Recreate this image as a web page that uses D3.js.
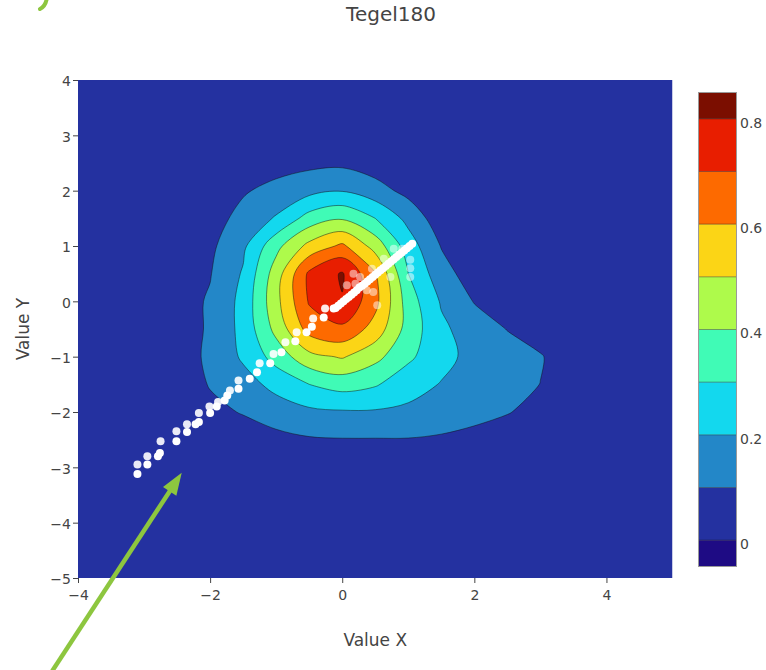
<!DOCTYPE html>
<html>
<head>
<meta charset="utf-8">
<script src="https://cdn.jsdelivr.net/npm/d3@7"></script>
<style>
  body { margin: 0; background: #fff; }
  text { font-family: "DejaVu Sans", Verdana, sans-serif; fill: #444; }
</style>
</head>
<body>
<div id="container"></div>
<script>
/** CONSTANTS AND GLOBALS */
const width = 766,
  height = 670,
  margin = { top: 80, bottom: 92, left: 78, right: 93.5 };

/** DATA */
// density grid read off the contour bands, rows go from y = 4 down to y = -5
const gridX = [-4, -3.5, -3, -2.5, -2, -1.5, -1, -0.5, 0, 0.5, 1, 1.5, 2, 2.5, 3, 3.5, 4, 4.5, 5];
const gridY = [4, 3.5, 3, 2.5, 2, 1.5, 1, 0.5, 0, -0.5, -1, -1.5, -2, -2.5, -3, -3.5, -4, -4.5, -5];
const density = [
  [0.02, 0.02, 0.02, 0.02, 0.02, 0.02, 0.02, 0.02, 0.02, 0.02, 0.02, 0.02, 0.02, 0.02, 0.02, 0.02, 0.02, 0.02, 0.02],
  [0.02, 0.02, 0.02, 0.02, 0.02, 0.02, 0.02, 0.02, 0.02, 0.02, 0.02, 0.02, 0.02, 0.02, 0.02, 0.02, 0.02, 0.02, 0.02],
  [0.02, 0.02, 0.02, 0.02, 0.02, 0.025, 0.03, 0.035, 0.04, 0.035, 0.03, 0.02, 0.02, 0.02, 0.02, 0.02, 0.02, 0.02, 0.02],
  [0.02, 0.02, 0.02, 0.02, 0.02, 0.04, 0.06, 0.075, 0.08, 0.05, 0.035, 0.02, 0.02, 0.02, 0.02, 0.02, 0.02, 0.02, 0.02],
  [0.02, 0.02, 0.02, 0.025, 0.04, 0.09, 0.13, 0.17, 0.195, 0.14, 0.07, 0.03, 0.02, 0.02, 0.02, 0.02, 0.02, 0.02, 0.02],
  [0.02, 0.02, 0.02, 0.03, 0.06, 0.13, 0.21, 0.34, 0.39, 0.30, 0.17, 0.04, 0.03, 0.02, 0.02, 0.02, 0.02, 0.02, 0.02],
  [0.02, 0.02, 0.025, 0.04, 0.08, 0.18, 0.37, 0.53, 0.62, 0.46, 0.25, 0.095, 0.04, 0.025, 0.02, 0.02, 0.02, 0.02, 0.02],
  [0.02, 0.02, 0.03, 0.05, 0.095, 0.21, 0.45, 0.72, 0.81, 0.61, 0.30, 0.14, 0.05, 0.03, 0.02, 0.02, 0.02, 0.02, 0.02],
  [0.02, 0.02, 0.03, 0.06, 0.11, 0.23, 0.47, 0.71, 0.795, 0.63, 0.35, 0.19, 0.095, 0.07, 0.05, 0.03, 0.02, 0.02, 0.02],
  [0.02, 0.02, 0.03, 0.06, 0.11, 0.23, 0.43, 0.64, 0.68, 0.56, 0.36, 0.22, 0.15, 0.097, 0.06, 0.03, 0.02, 0.02, 0.02],
  [0.02, 0.02, 0.03, 0.06, 0.115, 0.215, 0.34, 0.47, 0.51, 0.43, 0.32, 0.23, 0.17, 0.14, 0.106, 0.05, 0.03, 0.02, 0.02],
  [0.02, 0.02, 0.03, 0.05, 0.105, 0.16, 0.23, 0.30, 0.34, 0.31, 0.24, 0.195, 0.16, 0.13, 0.099, 0.05, 0.03, 0.02, 0.02],
  [0.02, 0.02, 0.025, 0.04, 0.08, 0.105, 0.15, 0.18, 0.19, 0.19, 0.18, 0.16, 0.13, 0.105, 0.07, 0.04, 0.025, 0.02, 0.02],
  [0.02, 0.02, 0.02, 0.02, 0.04, 0.06, 0.07, 0.09, 0.095, 0.095, 0.095, 0.085, 0.07, 0.05, 0.04, 0.03, 0.02, 0.02, 0.02],
  [0.02, 0.02, 0.02, 0.02, 0.02, 0.025, 0.03, 0.035, 0.04, 0.04, 0.035, 0.03, 0.03, 0.025, 0.02, 0.02, 0.02, 0.02, 0.02],
  [0.02, 0.02, 0.02, 0.02, 0.02, 0.02, 0.02, 0.02, 0.02, 0.02, 0.02, 0.02, 0.02, 0.02, 0.02, 0.02, 0.02, 0.02, 0.02],
  [0.02, 0.02, 0.02, 0.02, 0.02, 0.02, 0.02, 0.02, 0.02, 0.02, 0.02, 0.02, 0.02, 0.02, 0.02, 0.02, 0.02, 0.02, 0.02],
  [0.02, 0.02, 0.02, 0.02, 0.02, 0.02, 0.02, 0.02, 0.02, 0.02, 0.02, 0.02, 0.02, 0.02, 0.02, 0.02, 0.02, 0.02, 0.02],
  [0.02, 0.02, 0.02, 0.02, 0.02, 0.02, 0.02, 0.02, 0.02, 0.02, 0.02, 0.02, 0.02, 0.02, 0.02, 0.02, 0.02, 0.02, 0.02]
];

// contour levels and the jet-like band colours (first = below 0, last = above 0.8)
const levels = [0, 0.1, 0.2, 0.3, 0.4, 0.5, 0.6, 0.7, 0.8];
const bandColors = ["#1e0b84", "#2431a0", "#2387c8", "#13d8ee", "#40fbb6", "#aefa4b",
  "#fbd516", "#fd6a00", "#e81e00", "#7b0e00"];
const colorbarRange = [-0.05, 0.85];
const colorTicks = [0, 0.2, 0.4, 0.6, 0.8];

const xDomain = [-4, 5];
const yDomain = [-5, 4];
const xTicks = [-4, -2, 0, 2, 4];
const yTicks = [-5, -4, -3, -2, -1, 0, 1, 2, 3, 4];

// scatter: points on the diagonal
const diagX = [-3.10, -2.95, -2.79, -2.76, -2.51, -2.35, -2.22, -2.17, -2.00, -1.90, -1.78, -1.74,
  -1.57, -1.40, -1.29, -1.09, -0.92, -0.71, -0.54, -0.46, -0.28, -0.13,
  -0.10, -0.06, -0.02, 0.02, 0.06, 0.10, 0.14, 0.18, 0.22, 0.26, 0.30, 0.34, 0.38, 0.42, 0.46,
  0.50, 0.54, 0.58, 0.62, 0.66, 0.70, 0.74, 0.78, 0.82, 0.86, 0.90, 0.94, 0.98, 1.02, 1.06];
const diagY = [-3.12, -2.95, -2.80, -2.74, -2.53, -2.36, -2.22, -2.18, -2.02, -1.90, -1.79, -1.70,
  -1.58, -1.40, -1.28, -1.12, -0.92, -0.72, -0.56, -0.46, -0.29, -0.13,
  -0.12, -0.08, -0.04, 0.00, 0.04, 0.08, 0.12, 0.16, 0.20, 0.25, 0.28, 0.32, 0.36, 0.40, 0.44,
  0.48, 0.52, 0.56, 0.60, 0.64, 0.68, 0.72, 0.76, 0.80, 0.84, 0.88, 0.92, 0.96, 1.00, 1.04];
// scatter: step points just above the diagonal
const stepX = [-3.10, -2.95, -2.75, -2.51, -2.35, -2.17, -2.01, -1.88, -1.70, -1.57, -1.25, -1.04,
  -0.86, -0.69, -0.44, -0.26];
const stepY = [-2.95, -2.80, -2.53, -2.35, -2.22, -2.02, -1.90, -1.82, -1.61, -1.43, -1.12, -0.95,
  -0.74, -0.56, -0.31, -0.13];
// scatter: faint points around the top of the line
const cloudX = [0.07, 0.17, 0.20, 0.27, 0.37, 0.47, 0.53, 0.45, 0.63, 0.73, 0.78, 0.91, 1.03, 1.03, 1.03];
const cloudY = [0.29, 0.50, 0.32, 0.44, 0.20, 0.17, -0.07, 0.59, 0.77, 0.44, 0.95, 0.95, 0.75, 0.44, 0.60];

// annotation arrow in data units (tail sits outside the plot)
const arrowTail = [-4.39, -6.68];
const arrowTip = [-2.43, -3.10];

let svg;

init();

/** INITIALIZING FUNCTION */
function init() {

  svg = d3.select("#container")
    .append("svg")
    .attr("width", width)
    .attr("height", height);

  const x = d3.scaleLinear().domain(xDomain).range([margin.left, width - margin.right]);
  const y = d3.scaleLinear().domain(yDomain).range([height - margin.bottom, margin.top]);

  svg.append("clipPath").attr("id", "plot-clip")
    .append("rect")
    .attr("x", margin.left).attr("y", margin.top)
    .attr("width", x.range()[1] - margin.left)
    .attr("height", y.range()[0] - margin.top);

  const plot = svg.append("g").attr("clip-path", "url(#plot-clip)");

  plot.append("rect")
    .attr("x", margin.left).attr("y", margin.top)
    .attr("width", x.range()[1] - margin.left)
    .attr("height", y.range()[0] - margin.top)
    .attr("fill", bandColors[1]);

  // grid cell i sits at contour coordinate i + 0.5
  const gx = d3.scaleLinear().domain([0.5, gridX.length - 0.5])
    .range([x(gridX[0]), x(gridX[gridX.length - 1])]);
  const gy = d3.scaleLinear().domain([0.5, gridY.length - 0.5])
    .range([y(gridY[0]), y(gridY[gridY.length - 1])]);

  const contours = d3.contours()
    .size([gridX.length, gridY.length])
    .thresholds(levels.filter(v => v > 0))(density.flat());

  const ringLine = d3.line()
    .x(p => gx(p[0]))
    .y(p => gy(p[1]))
    .curve(d3.curveCatmullRomClosed.alpha(0.5));

  const toPath = geom => geom.coordinates
    .map(poly => poly.map(ring => ringLine(ring.slice(0, -1))).join(""))
    .join("");

  plot.selectAll(".band")
    .data(contours)
    .join("path")
    .attr("class", "band")
    .attr("d", d => toPath(d))
    .attr("fill", d => bandColors[levels.indexOf(d.value) + 1])
    .attr("fill-rule", "evenodd")
    .attr("stroke", "#111")
    .attr("stroke-opacity", 0.6)
    .attr("stroke-width", 0.8);

  // scatter points
  const drawDots = (xs, ys, opacity) => {
    plot.append("g")
      .selectAll("circle")
      .data(xs.map((v, i) => [v, ys[i]]))
      .join("circle")
      .attr("cx", d => x(d[0]))
      .attr("cy", d => y(d[1]))
      .attr("r", 4)
      .attr("fill", "#fff")
      .attr("fill-opacity", opacity);
  };
  drawDots(cloudX, cloudY, 0.5);
  drawDots(stepX, stepY, 0.9);
  drawDots(diagX, diagY, 1);

  // axes
  const xAxis = svg.append("g")
    .attr("transform", `translate(0,${y.range()[0]})`)
    .call(d3.axisBottom(x).tickValues(xTicks).tickSize(5).tickPadding(7).tickFormat(d3.format("d")));
  const yAxis = svg.append("g")
    .attr("transform", `translate(${margin.left},0)`)
    .call(d3.axisLeft(y).tickValues(yTicks).tickSize(5).tickPadding(2).tickFormat(d3.format("d")));

  [xAxis, yAxis].forEach(g => {
    g.select(".domain").remove();
    g.selectAll(".tick line").attr("stroke", "#444");
    g.selectAll(".tick text").attr("font-size", 14).attr("fill", "#444")
      .attr("font-family", "DejaVu Sans, Verdana, sans-serif");
  });
  yAxis.selectAll(".tick text").attr("dy", "0.42em");

  svg.append("text")
    .attr("x", 391).attr("y", 21)
    .attr("text-anchor", "middle")
    .attr("font-size", 20)
    .text("Tegel180");

  svg.append("text")
    .attr("x", (x.range()[0] + x.range()[1]) / 2).attr("y", 646)
    .attr("text-anchor", "middle")
    .attr("font-size", 17)
    .text("Value X");

  svg.append("text")
    .attr("transform", `translate(28.5,${(y.range()[0] + y.range()[1]) / 2}) rotate(-90)`)
    .attr("text-anchor", "middle")
    .attr("font-size", 17)
    .text("Value Y");

  // colorbar
  const cb = d3.scaleLinear().domain(colorbarRange).range([566.5, 92.5]);
  const edges = [colorbarRange[0], ...levels, colorbarRange[1]];
  const bar = svg.append("g");
  bar.selectAll("rect.cb")
    .data(bandColors)
    .join("rect")
    .attr("class", "cb")
    .attr("x", 698.5)
    .attr("width", 38)
    .attr("y", (d, i) => cb(edges[i + 1]))
    .attr("height", (d, i) => cb(edges[i]) - cb(edges[i + 1]))
    .attr("fill", d => d);
  bar.selectAll("line")
    .data(levels)
    .join("line")
    .attr("x1", 698.5).attr("x2", 736.5)
    .attr("y1", d => cb(d)).attr("y2", d => cb(d))
    .attr("stroke", "#111").attr("stroke-opacity", 0.5).attr("stroke-width", 0.8);
  bar.append("rect")
    .attr("x", 698.5).attr("y", cb(colorbarRange[1]))
    .attr("width", 38)
    .attr("height", cb(colorbarRange[0]) - cb(colorbarRange[1]))
    .attr("fill", "none")
    .attr("stroke", "#9a9a9a");
  bar.selectAll("text")
    .data(colorTicks)
    .join("text")
    .attr("x", 740)
    .attr("y", d => cb(d) + 4)
    .attr("dy", "0.35em")
    .attr("font-size", 14)
    .text(d => d);

  // green annotation arrow
  const green = "#8dc63f";
  const t = [x(arrowTip[0]), y(arrowTip[1])];
  const s = [x(arrowTail[0]), y(arrowTail[1])];
  const len = Math.hypot(t[0] - s[0], t[1] - s[1]);
  const u = [(t[0] - s[0]) / len, (t[1] - s[1]) / len];
  const n = [-u[1], u[0]];
  const headL = 22, headW = 8;
  const base = [t[0] - u[0] * headL, t[1] - u[1] * headL];
  svg.append("line")
    .attr("x1", s[0]).attr("y1", s[1])
    .attr("x2", base[0] + u[0] * 4).attr("y2", base[1] + u[1] * 4)
    .attr("stroke", green).attr("stroke-width", 4.5);
  svg.append("path")
    .attr("d", `M${t[0]},${t[1]}L${base[0] + n[0] * headW},${base[1] + n[1] * headW}L${base[0] - n[0] * headW},${base[1] - n[1] * headW}Z`)
    .attr("fill", green);

  // small green mark cut off at the top-left corner
  svg.append("path")
    .attr("d", "M47,-3 Q46,6 40,9")
    .attr("fill", "none")
    .attr("stroke", green)
    .attr("stroke-width", 4)
    .attr("stroke-linecap", "round");
}
</script>
</body>
</html>
